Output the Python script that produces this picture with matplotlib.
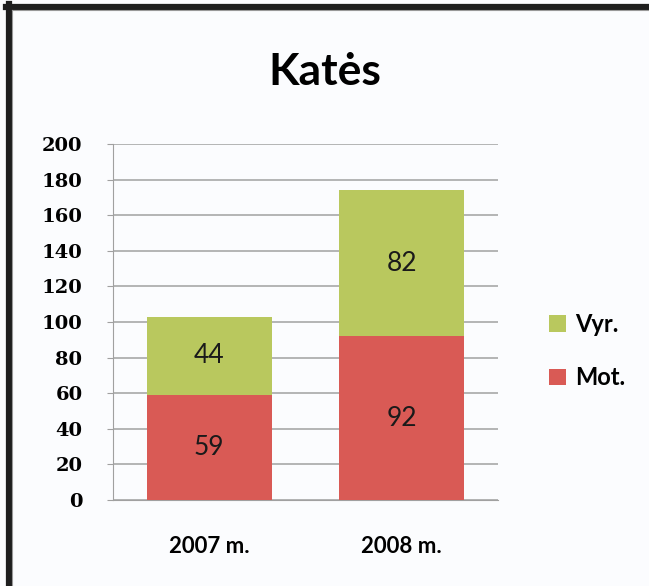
import matplotlib.pyplot as plt
from matplotlib.lines import Line2D
import numpy as np

# -----------------------------
# Data
# -----------------------------
categories = ["2007 m.", "2008 m."]
mot = [59, 92]
vyr = [44, 82]
yticks = [0, 20, 40, 60, 80, 100, 120, 140, 160, 180, 200]

red = "#D95A55"
green = "#B9C85E"
bg = "#FBFCFE"

plt.rcParams["font.family"] = ["Lato", "DejaVu Sans"]

W, H = 649, 586
fig = plt.figure(figsize=(W / 100, H / 100), dpi=100, facecolor=bg)
ax = fig.add_axes([113 / W, 1 - 500 / H, 385 / W, 356 / H], facecolor=bg)

x = np.arange(len(categories))
b1 = ax.bar(x, mot, width=0.65, color=red, label="Mot.", zorder=3)
b2 = ax.bar(x, vyr, width=0.65, bottom=mot, color=green, label="Vyr.", zorder=3)

for bars, vals, bottoms in [(b1, mot, [0, 0]), (b2, vyr, mot)]:
    for rect, v, b in zip(bars, vals, bottoms):
        ax.text(rect.get_x() + rect.get_width() / 2, b + v / 2, str(v),
                ha="center", va="center", fontsize=19, color="#1a1a1a", zorder=4)

ax.set_xlim(-0.5, 1.5)
ax.set_ylim(0, 200)
ax.set_yticks(yticks)
ax.set_yticklabels([str(t) for t in yticks], fontsize=14, fontweight="bold",
                   family=["DejaVu Serif"])
ax.set_xticks(x)
ax.set_xticklabels(categories, fontsize=16, fontweight="bold")
ax.tick_params(axis="y", length=4, color="#a0a0a0", pad=18, direction="out")
ax.tick_params(axis="x", length=0, pad=26)
ax.grid(axis="y", color="#a8a8a8", linewidth=1.2, zorder=0)
for s in ["top", "right"]:
    ax.spines[s].set_visible(False)
ax.spines["left"].set_color("#a0a0a0")
ax.spines["bottom"].set_color("#a0a0a0")

handles = [b2, b1]
fig.legend(handles, ["Vyr.", "Mot."], loc="center left",
           bbox_to_anchor=(528 / W, 1 - 351 / H), frameon=False,
           prop={"size": 17, "weight": "bold"}, handlelength=0.7,
           handleheight=0.7, handletextpad=0.4, labelspacing=1.3)

fig.text(0.5, 1 - 72 / H, "Katės", ha="center", va="center",
         fontsize=32, fontweight="bold")

# frame around the chart
fig.add_artist(Line2D([9 / W, 9 / W], [0, 1 - 4 / H], color="#1e1e1e",
                      linewidth=4.5, transform=fig.transFigure))
fig.add_artist(Line2D([6 / W, 1], [1 - 7 / H, 1 - 7 / H], color="#1e1e1e",
                      linewidth=4.5, transform=fig.transFigure))
fig.add_artist(Line2D([12 / W, 12 / W], [0, 1 - 10 / H], color="#999999",
                      linewidth=0.8, transform=fig.transFigure))
fig.add_artist(Line2D([12 / W, 1], [1 - 10 / H, 1 - 10 / H], color="#999999",
                      linewidth=0.8, transform=fig.transFigure))

fig.savefig("out.png", dpi=100, facecolor=bg)
